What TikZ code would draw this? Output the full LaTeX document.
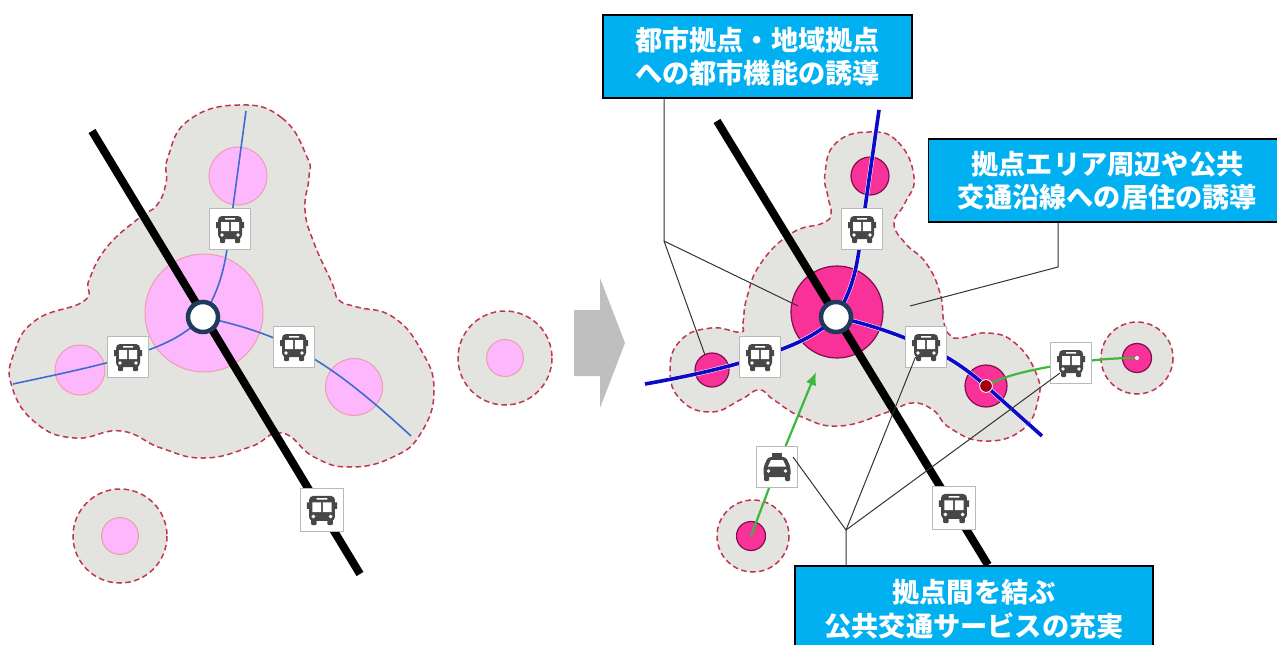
\documentclass[tikz,border=0pt]{standalone}
\usepackage{xcolor}
\usepackage{fontspec}
\usetikzlibrary{arrows.meta}
\newfontfamily\jpfont{Noto Sans CJK JP}
\definecolor{vblobgray}{HTML}{e3e3df}
\definecolor{vdashred}{HTML}{c0364e}
\definecolor{vpaleping}{HTML}{fdb8fd}
\definecolor{vpaleedge}{HTML}{f09cb0}
\definecolor{vhotpink}{HTML}{f9329a}
\definecolor{vhotedge}{HTML}{7e0f4c}
\definecolor{vthinblue}{HTML}{3f6cd0}
\definecolor{vdeepblue}{HTML}{0a0ac8}
\definecolor{vgreen}{HTML}{3cb83c}
\definecolor{vnavy}{HTML}{1f3a5a}
\definecolor{vicon}{HTML}{474747}
\definecolor{vcyan}{HTML}{00b0f0}
\definecolor{vthin}{HTML}{333333}
\definecolor{vdarkred}{HTML}{a00010}
\tikzset{
	blob/.style={fill=vblobgray, draw=vdashred, line width=1.5pt, dash pattern=on 5.5pt off 3.5pt},
	palespot/.style={fill=vpaleping, draw=vpaleedge, line width=1pt},
	hotspot/.style={fill=vhotpink, draw=vhotedge, line width=1.2pt},
	thinroute/.style={color=vthinblue, line width=1.6pt},
	deeproute/.style={draw=white, double=vdeepblue, double distance=3.6pt, line width=.5pt},
	greenroute/.style={color=vgreen, line width=2.2pt},
	railway/.style={color=black, line width=8pt},
	signbox/.style={rectangle, fill=white, draw=gray!55, line width=1pt, minimum size=41pt, inner sep=0pt},
	stationdot/.style={circle, fill=white, draw=vnavy, line width=4.5pt, minimum size=30pt, inner sep=0pt},
	callbox/.style={rectangle, fill=vcyan, draw=black, line width=1.5pt, text=white, align=center, inner sep=0pt, font=\jpfont\bfseries\fontsize{27.2}{33.5}\selectfont},
	callline/.style={color=vthin, line width=1pt},
	busicon/.pic={
		\fill[vicon, rounded corners=4pt] (-12,-13) rectangle (12,10);
		\fill[vicon] (-14,-7) rectangle (-12,-1) (12,-7) rectangle (14,-1);
		\fill[vicon, rounded corners=1pt] (-10,8) rectangle (-5,14) (5,8) rectangle (10,14);
		\fill[white] (-9,-7) rectangle (-.8,2) (.8,-7) rectangle (9,2) (-5,-11) rectangle (5,-9.5);
		\fill[white] (-8,6) circle (1.8) (8,6) circle (1.8);
	},
	taxiicon/.pic={
		\fill[vicon] (-5,-14) rectangle (5,-9);
		\fill[vicon, rounded corners=3pt] (-9,-10) -- (9,-10) -- (13.5,0) -- (13.5,10) -- (-13.5,10) -- (-13.5,0) -- cycle;
		\fill[vicon, rounded corners=1pt] (-13,8) rectangle (-8,14) (8,8) rectangle (13,14);
		\fill[white] (-6,-7) -- (6,-7) -- (9,-.5) -- (-9,-.5) -- cycle;
		\fill[white] (-8.5,4) circle (1.9) (8.5,4) circle (1.9);
	}
}
\begin{document}
\begin{tikzpicture}[x=1pt, y=-1pt]
		\useasboundingbox (0,0) rectangle (1277,645);
		\coordinate (coreL) at (203,317);
		\coordinate (coreR) at (836,317);
		\coordinate (busLtop) at (230,229);
		\coordinate (busLwest) at (128,357);
		\coordinate (busLeast) at (294,347);
		\coordinate (busLrail) at (322,510);
		\coordinate (busRtop) at (862,229);
		\coordinate (busRwest) at (760,357);
		\coordinate (busRmid) at (926,347);
		\coordinate (busRfar) at (1071,363);
		\coordinate (busRrail) at (954,508);
		\coordinate (taxiR) at (777,467);
		\coordinate (hubE) at (986,386);
		\coordinate (spotFar) at (1137,358);
		\coordinate (spotLow) at (751,536);

		\draw[blob] plot[smooth cycle, tension=.8] coordinates {(239,105) (282,118) (307,157) (309,177) (305,210) (314,243) (332,283) (339,300) (357,307) (393,317) (421,350) (434,390) (421,433) (393,457) (350,467) (314,457) (282,433) (250,447) (204,458) (161,448) (121,431) (75,438) (36,423) (12,387) (14,353) (36,320) (84,301) (89,280) (107,247) (139,218) (157,205) (166,183) (168,157) (189,120)};
		\draw[blob] (505,358) circle [radius=47];
		\draw[blob] (120,536) circle [radius=47];
		\draw[palespot] (204,313) circle [radius=59];
		\draw[palespot] (238,176) circle [radius=29];
		\draw[palespot] (80,370) circle [radius=25];
		\draw[palespot] (354,387) circle [radius=28.5];
		\draw[palespot] (505,358) circle [radius=18.5];
		\draw[palespot] (120,536) circle [radius=18.5];
		\draw[thinroute] (coreL) .. controls (222,285) and (225,265) .. (busLtop) -- (246,111);
		\draw[thinroute] (coreL) .. controls (180,340) and (155,348) .. (busLwest) .. controls (90,368) and (50,376) .. (13,384);
		\draw[thinroute] (coreL) .. controls (240,325) and (265,333) .. (busLeast) .. controls (325,365) and (350,380) .. (411,436);
		\draw[railway] (92,131) -- (360,574);
		\node[stationdot] (stationL) at (coreL) {};
		\foreach \nm/\pos in {signLtop/busLtop, signLwest/busLwest, signLeast/busLeast} {
			\node[signbox] (\nm) at (\pos) {};
			\pic at (\nm) {busicon};
		}
		\node[signbox, minimum size=43pt] (signLrail) at (busLrail) {};
		\pic[scale=1.08] at (signLrail) {busicon};

		\path[fill=gray!50] (574,310) -- (600,310) -- (600,278) -- (625,343) -- (600,408) -- (600,376) -- (574,376) -- cycle;

		\draw[blob] plot[smooth cycle, tension=.8] coordinates {(869,132) (898,142) (914,177) (905,203) (894,223) (905,243) (926,263) (940,293) (944,323) (950,335) (960,338) (988,333) (1015,343) (1036,373) (1038,400) (1022,430) (984,441) (950,428) (933,410) (912,403) (888,412) (840,426) (802,417) (774,400) (759,390) (740,400) (711,412) (681,400) (670,370) (681,340) (711,328) (740,332) (743,323) (747,297) (761,263) (792,233) (823,223) (831,213) (828,197) (825,173) (836,143)};
		\draw[blob] (spotFar) circle [radius=36];
		\draw[blob] (753,536) circle [radius=36];
		\draw[hotspot] (837,312) circle [radius=46];
		\draw[hotspot] (870,176) circle [radius=19];
		\draw[hotspot] (712,370) circle [radius=17];
		\draw[hotspot] (hubE) circle [radius=21];
		\draw[hotspot] (spotFar) circle [radius=14.5];
		\draw[hotspot] (spotLow) circle [radius=14.5];
		\draw[deeproute] (coreR) .. controls (855,285) and (857,265) .. (busRtop) -- (879,110);
		\draw[deeproute] (coreR) .. controls (812,340) and (785,348) .. (busRwest) .. controls (725,368) and (690,376) .. (645,384);
		\draw[deeproute] (coreR) .. controls (872,325) and (900,335) .. (busRmid) .. controls (950,357) and (970,372) .. (hubE) -- (1042,436);
		\draw[greenroute] (hubE) .. controls (1005,375) and (1030,370) .. (busRfar) .. controls (1095,360) and (1110,358) .. (spotFar);
		\draw[greenroute, -{Latex[length=13pt, width=11pt]}] (taxiR) -- (816,372);
		\draw[greenroute] (taxiR) -- (spotLow);
		\fill[white] (spotFar) circle (2);
		\fill[vdarkred] (hubE) circle (6);
		\draw[white, line width=.8pt] (hubE) circle (6.4);
		\draw[railway] (717,121) -- (988,565);
		\node[stationdot] (stationR) at (coreR) {};
		\foreach \nm/\pos in {signRtop/busRtop, signRwest/busRwest, signRmid/busRmid, signRfar/busRfar} {
			\node[signbox] (\nm) at (\pos) {};
			\pic at (\nm) {busicon};
		}
		\node[signbox, minimum size=43pt] (signRrail) at (busRrail) {};
		\pic[scale=1.08] at (signRrail) {busicon};
		\node[signbox] (signTaxi) at (taxiR) {};
		\pic at (signTaxi) {taxiicon};

		\node[callbox, minimum width=309pt, minimum height=83pt] (boxCity) at (757.5,56.5) {都市拠点・地域拠点\\への都市機能の誘導};
		\node[callbox, minimum width=358pt, minimum height=83pt] (boxLiving) at (1107.5,180.5) {拠点エリア周辺や公共\\交通沿線への居住の誘導};
		\node[callbox, minimum width=358pt, minimum height=86pt] (boxTransit) at (974,609) {拠点間を結ぶ\\公共交通サービスの充実};

		\coordinate (jntCity) at (664,241);
		\coordinate (jntLiving) at (1058,267);
		\coordinate (jntTransit) at (846,530);
		\coordinate (tipCore) at (798,306);
		\coordinate (tipWest) at (705,355);
		\coordinate (tipBlob) at (910,306);
		\coordinate (tipTaxi) at (793,457);
		\coordinate (tipMid) at (915.5,357);
		\coordinate (tipFar) at (1060,373);
		\draw[callline] (boxCity.south -| jntCity) -- (jntCity) -- (tipCore);
		\draw[callline] (jntCity) -- (tipWest);
		\draw[callline] (boxLiving.south -| jntLiving) -- (jntLiving) -- (tipBlob);
		\draw[callline] (boxTransit.north -| jntTransit) -- (jntTransit) -- (tipTaxi);
		\draw[callline] (jntTransit) -- (tipMid);
		\draw[callline] (jntTransit) -- (tipFar);
	\end{tikzpicture}
\end{document}
